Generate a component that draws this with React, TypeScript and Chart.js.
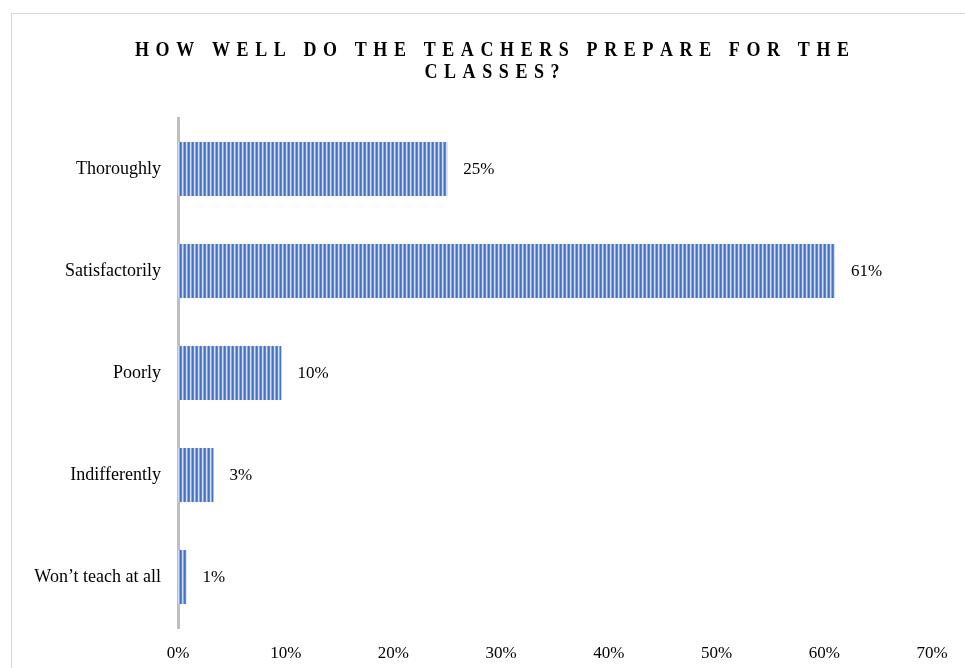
import React, { useEffect, useRef } from "react";
import { Chart, registerables } from "chart.js";

Chart.register(...registerables);

const categories = ["Thoroughly", "Satisfactorily", "Poorly", "Indifferently", "Won\u2019t teach at all"];
const values = [25, 61, 9.6, 3.3, 0.8];
const titleLines = ["HOW WELL DO THE TEACHERS PREPARE FOR THE", "CLASSES?"];
const xTicksMax = 70;
const xTickStep = 10;

function makeStripePattern(): CanvasPattern | string {
  const c = document.createElement("canvas");
  c.width = 4;
  c.height = 1;
  const g = c.getContext("2d");
  if (!g) return "#4472C4";
  const cols = ["#4472C4", "#6088cf", "#d3def3", "#8ca8dd"];
  cols.forEach((col, i) => {
    g.fillStyle = col;
    g.fillRect(i, 0, 1, 1);
  });
  const p = g.createPattern(c, "repeat");
  return p || "#4472C4";
}

const titlePlugin = {
  id: "spacedTitle",
  afterDraw(chart: any) {
    const ctx: CanvasRenderingContext2D = chart.ctx;
    ctx.save();
    ctx.font = "bold 18px 'Liberation Serif', 'Times New Roman', serif";
    ctx.fillStyle = "#000";
    ctx.textBaseline = "alphabetic";
    const spacing = 6.6;
    const centerX = 492;
    const baselines = [56, 78];
    const sy = 1.12;
    titleLines.forEach((line, li) => {
      const chars = Array.from(line);
      const widths = chars.map((ch) => ctx.measureText(ch).width);
      const total = widths.reduce((a, b) => a + b, 0) + spacing * (chars.length - 1);
      let x = centerX - total / 2;
      ctx.save();
      ctx.translate(0, baselines[li]);
      ctx.scale(1, sy);
      chars.forEach((ch, i) => {
        ctx.fillText(ch, x, 0);
        x += widths[i] + spacing;
      });
      ctx.restore();
    });
    ctx.restore();
  },
};

const valueLabelPlugin = {
  id: "valueLabels",
  afterDatasetsDraw(chart: any) {
    const ctx: CanvasRenderingContext2D = chart.ctx;
    const meta = chart.getDatasetMeta(0);
    ctx.save();
    ctx.font = "17px 'Liberation Serif', 'Times New Roman', serif";
    ctx.fillStyle = "#000";
    ctx.textAlign = "left";
    ctx.textBaseline = "middle";
    meta.data.forEach((bar: any, i: number) => {
      const v = chart.data.datasets[0].data[i] as number;
      ctx.fillText(Math.round(v) + "%", bar.x + 16, bar.y + 1);
    });
    ctx.restore();
  },
};

export default function App() {
  const canvasRef = useRef<HTMLCanvasElement | null>(null);

  useEffect(() => {
    if (!canvasRef.current) return;
    const pattern = makeStripePattern();
    const chart = new Chart(canvasRef.current, {
      type: "bar",
      data: {
        labels: categories,
        datasets: [
          {
            data: values,
            backgroundColor: pattern as any,
            borderWidth: 0,
            categoryPercentage: 1,
            barPercentage: 0.53,
          },
        ],
      },
      options: {
        indexAxis: "y",
        animation: false,
        responsive: true,
        maintainAspectRatio: false,
        layout: { padding: { top: 118, right: 33, left: 0, bottom: 0 } },
        plugins: {
          legend: { display: false },
          title: { display: false },
          tooltip: { enabled: false },
        },
        scales: {
          x: {
            type: "linear",
            min: 0,
            max: xTicksMax,
            grid: { display: false, drawTicks: false },
            border: { display: false },
            ticks: {
              stepSize: xTickStep,
              padding: 15,
              color: "#000",
              font: { family: "'Liberation Serif', 'Times New Roman', serif", size: 17 },
              callback: (v: any) => v + "%",
            },
            afterFit: (scale: any) => {
              scale.height = 40;
            },
          },
          y: {
            type: "category",
            grid: { display: false, drawTicks: false },
            border: { display: true, color: "#bfbfbf", width: 3 },
            ticks: {
              padding: 17,
              color: "#000",
              font: { family: "'Liberation Serif', 'Times New Roman', serif", size: 18 },
            },
            afterFit: (scale: any) => {
              scale.width = 178;
            },
          },
        },
      },
      plugins: [titlePlugin, valueLabelPlugin],
    });
    return () => chart.destroy();
  }, []);

  return (
    <div
      style={{
        position: "fixed",
        left: 0,
        top: 0,
        width: "100vw",
        height: "100vh",
        background: "#fff",
        overflow: "hidden",
      }}
    >
      <div
        style={{
          position: "absolute",
          left: 11,
          top: 13,
          width: 1400,
          height: 1000,
          borderLeft: "1px solid #d9d9d9",
          borderTop: "1px solid #d9d9d9",
          boxSizing: "border-box",
        }}
      />
      <div style={{ position: "absolute", left: 0, top: 0, width: 965, height: 668 }}>
        <canvas ref={canvasRef} />
      </div>
    </div>
  );
}
